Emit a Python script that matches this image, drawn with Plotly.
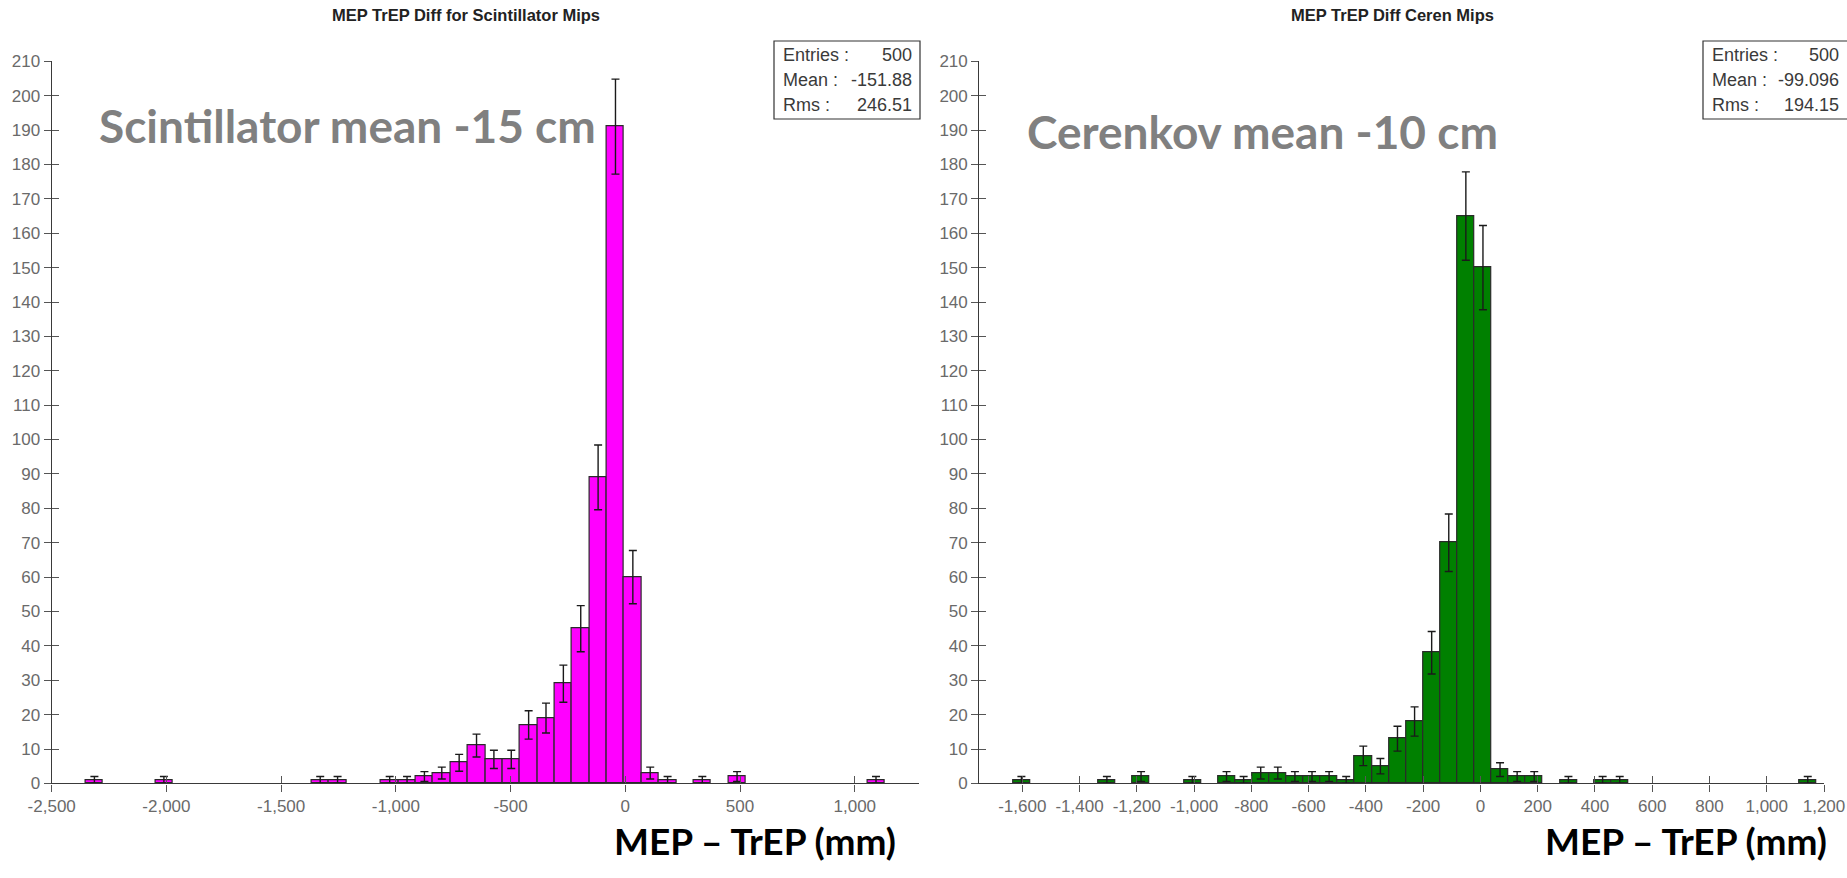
import math
import plotly.graph_objects as go

W, H = 1847, 878

# ---------------- data ----------------
# Scintillator histogram: bin index k covers [sci_origin + k*sci_width, sci_origin + (k+1)*sci_width]
sci_origin = -5.0
sci_width = 75.7
sci_bins = [-31, -27, -18, -17, -14, -13, -12, -11, -10, -9, -8, -7, -6, -5, -4, -3, -2, -1, 0, 1, 2, 4, 6, 14]
sci_counts = [1, 1, 1, 1, 1, 1, 2, 3, 6, 11, 7, 7, 17, 19, 29, 45, 89, 191, 60, 3, 1, 1, 2, 1]

# Cerenkov histogram
cer_origin = -20.9
cer_width = 59.7
cer_bins = [-27, -22, -20, -17, -15, -14, -13, -12, -11, -10, -9, -8, -7, -6, -5, -4, -3, -2, -1, 0, 1, 2, 3, 5, 7, 8, 19]
cer_counts = [1, 1, 2, 1, 2, 1, 3, 3, 2, 2, 2, 1, 8, 5, 13, 18, 38, 70, 165, 150, 4, 2, 2, 1, 1, 1, 1]

sci_xticks = [-2500, -2000, -1500, -1000, -500, 0, 500, 1000]
cer_xticks = [-1600, -1400, -1200, -1000, -800, -600, -400, -200, 0, 200, 400, 600, 800, 1000, 1200]
yticks = list(range(0, 211, 10))

sci_title = "MEP TrEP Diff for Scintillator Mips"
cer_title = "MEP TrEP Diff Ceren Mips"
sci_stats = [("Entries :", "500"), ("Mean :", "-151.88"), ("Rms :", "246.51")]
cer_stats = [("Entries :", "500"), ("Mean :", "-99.096"), ("Rms :", "194.15")]
sci_note = "Scintillator mean -15 cm"
cer_note = "Cerenkov mean -10 cm"
xlabel = "MEP \u2013 TrEP (mm)"

# ---------------- helpers ----------------
def px(x):
    return x / W

def py(y):
    return 1 - y / H

def centers(origin, width, bins):
    return [origin + (k + 0.5) * width for k in bins]

def fmt(v):
    return f"{v:,}"

TICKFONT = dict(family="Liberation Sans, Arial, sans-serif", size=17, color="#6a6a6a")
AXCOL = "#3a3a3a"

fig = go.Figure()

panels = [
    dict(n="", bins=sci_bins, counts=sci_counts, origin=sci_origin, width=sci_width,
         color="#FF00FF", xr=[-2500, 1280], xt=sci_xticks, dom=[px(51.7), px(919)]),
    dict(n="2", bins=cer_bins, counts=cer_counts, origin=cer_origin, width=cer_width,
         color="#008000", xr=[-1750, 1200], xt=cer_xticks, dom=[px(979.3), px(1824)]),
]

ydom = [py(783.4), py(61.3)]

for i, p in enumerate(panels):
    n = p["n"]
    ov = str(3 + i * 2)  # overlay axes ids: 3 and 5
    fig.add_trace(go.Bar(
        x=centers(p["origin"], p["width"], p["bins"]),
        y=p["counts"],
        width=p["width"],
        marker=dict(color=p["color"], line=dict(color="#2a2a2a", width=1.2)),
        error_y=dict(type="data", array=[math.sqrt(c) for c in p["counts"]],
                     color="#1a1a1a", thickness=1.4, width=4),
        xaxis="x" + n, yaxis="y" + n, showlegend=False,
    ))
    fig.add_trace(go.Scatter(x=[None], y=[None], xaxis="x" + ov, yaxis="y" + ov,
                             showlegend=False, hoverinfo="skip"))
    common_x = dict(range=p["xr"], tickvals=p["xt"], ticktext=[fmt(v) for v in p["xt"]],
                    showgrid=False, zeroline=False, fixedrange=True, automargin=False)
    common_y = dict(range=[0, 210], tickvals=yticks, ticktext=[str(v) for v in yticks],
                    showgrid=False, zeroline=False, fixedrange=True, automargin=False)
    fig.update_layout(**{
        "xaxis" + n: dict(domain=p["dom"], anchor="y" + n, showline=True, linecolor=AXCOL,
                          linewidth=1.3, ticks="outside", ticklen=7, tickwidth=1.2,
                          tickcolor="#555", tickfont=TICKFONT, **common_x),
        "yaxis" + n: dict(domain=ydom, anchor="x" + n, showline=True, linecolor=AXCOL,
                          linewidth=1.3, ticks="outside", ticklen=7, tickwidth=1.2,
                          tickcolor="#555", tickfont=TICKFONT, **common_y),
        "xaxis" + ov: dict(overlaying="x" + n, anchor="y" + ov, showline=False, ticks="inside",
                           ticklen=7, tickwidth=1.2, tickcolor="#555", showticklabels=False,
                           **common_x),
        "yaxis" + ov: dict(overlaying="y" + n, anchor="x" + ov, showline=False, ticks="inside",
                           ticklen=7, tickwidth=1.2, tickcolor="#555", showticklabels=False,
                           **common_y),
    })

annotations = []
shapes = []

# Titles
for txt, cx in [(sci_title, 466), (cer_title, 1392)]:
    annotations.append(dict(text=f"<b>{txt}</b>", x=px(cx), y=py(15), xref="paper", yref="paper",
                            xanchor="center", yanchor="middle", showarrow=False,
                            font=dict(family="Liberation Sans, Arial, sans-serif", size=16.5, color="#222")))

# Stats boxes
for stats, (x0, x1) in [(sci_stats, (774, 920)), (cer_stats, (1703, 1860))]:
    shapes.append(dict(type="rect", xref="paper", yref="paper", x0=px(x0), x1=px(x1),
                       y0=py(119), y1=py(41), line=dict(color="#333", width=1.2),
                       fillcolor="white"))
    vx = min(x1, 1847) - 6
    for j, (lab, val) in enumerate(stats):
        yy = 55 + 25 * j
        annotations.append(dict(text=lab, x=px(x0 + 7), y=py(yy), xref="paper", yref="paper",
                                xanchor="left", yanchor="middle", showarrow=False,
                                font=dict(family="Liberation Sans, Arial, sans-serif", size=18, color="#3a3a3a")))
        annotations.append(dict(text=val, x=px(vx), y=py(yy), xref="paper", yref="paper",
                                xanchor="right", yanchor="middle", showarrow=False,
                                font=dict(family="Liberation Sans, Arial, sans-serif", size=18, color="#3a3a3a")))

# Big gray notes
for txt, x0, yc in [(sci_note, 97, 125), (cer_note, 1025, 132)]:
    annotations.append(dict(text=f"<b>{txt}</b>", x=px(x0), y=py(yc), xref="paper", yref="paper",
                            xanchor="left", yanchor="middle", showarrow=False,
                            font=dict(family="Lato, DejaVu Sans, sans-serif", size=46, color="#808080")))

# Bottom x labels
for x0 in [612, 1543]:
    annotations.append(dict(text=f"<b>{xlabel}</b>", x=px(x0), y=py(840), xref="paper", yref="paper",
                            xanchor="left", yanchor="middle", showarrow=False,
                            font=dict(family="Lato, Open Sans, sans-serif", size=37, color="#000")))

fig.update_layout(
    width=W, height=H, margin=dict(l=0, r=0, t=0, b=0),
    paper_bgcolor="white", plot_bgcolor="white",
    bargap=0, annotations=annotations, shapes=shapes,
)

fig.write_html("out.html")
